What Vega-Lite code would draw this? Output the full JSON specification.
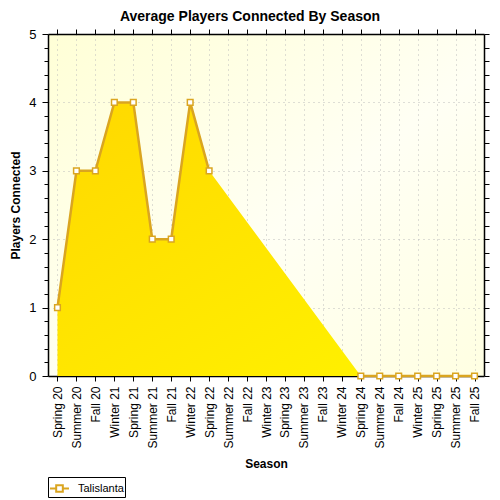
{
  "$schema": "https://vega.github.io/schema/vega-lite/v6.json",
  "autosize": {"type": "none"},
  "padding": {"left": 48, "top": 34, "right": 16, "bottom": 124},
  "width": 436,
  "height": 342,
  "background": "white",
  "title": {
    "text": "Average Players Connected By Season",
    "font": "Liberation Sans",
    "fontSize": 14,
    "fontWeight": "bold",
    "color": "black",
    "anchor": "middle",
    "dx": -16,
    "offset": 4
  },
  "data": {
    "values": [
      {"season": "Spring 20", "players": 1, "series": "Talislanta"},
      {"season": "Summer 20", "players": 3, "series": "Talislanta"},
      {"season": "Fall 20", "players": 3, "series": "Talislanta"},
      {"season": "Winter 21", "players": 4, "series": "Talislanta"},
      {"season": "Spring 21", "players": 4, "series": "Talislanta"},
      {"season": "Summer 21", "players": 2, "series": "Talislanta"},
      {"season": "Fall 21", "players": 2, "series": "Talislanta"},
      {"season": "Winter 22", "players": 4, "series": "Talislanta"},
      {"season": "Spring 22", "players": 3, "series": "Talislanta"},
      {"season": "Summer 22", "players": null, "series": "Talislanta"},
      {"season": "Fall 22", "players": null, "series": "Talislanta"},
      {"season": "Winter 23", "players": null, "series": "Talislanta"},
      {"season": "Spring 23", "players": null, "series": "Talislanta"},
      {"season": "Summer 23", "players": null, "series": "Talislanta"},
      {"season": "Fall 23", "players": null, "series": "Talislanta"},
      {"season": "Winter 24", "players": null, "series": "Talislanta"},
      {"season": "Spring 24", "players": 0, "series": "Talislanta"},
      {"season": "Summer 24", "players": 0, "series": "Talislanta"},
      {"season": "Fall 24", "players": 0, "series": "Talislanta"},
      {"season": "Winter 25", "players": 0, "series": "Talislanta"},
      {"season": "Spring 25", "players": 0, "series": "Talislanta"},
      {"season": "Summer 25", "players": 0, "series": "Talislanta"},
      {"season": "Fall 25", "players": 0, "series": "Talislanta"}
    ]
  },
  "encoding": {
    "x": {
      "field": "season",
      "type": "ordinal",
      "sort": null,
      "scale": {
        "type": "point",
        "padding": 0.5,
        "domain": ["Spring 20", "Summer 20", "Fall 20", "Winter 21", "Spring 21", "Summer 21", "Fall 21", "Winter 22", "Spring 22", "Summer 22", "Fall 22", "Winter 23", "Spring 23", "Summer 23", "Fall 23", "Winter 24", "Spring 24", "Summer 24", "Fall 24", "Winter 25", "Spring 25", "Summer 25", "Fall 25"]
      }
    },
    "y": {
      "field": "players",
      "type": "quantitative",
      "scale": {"domain": [0, 5], "nice": false}
    }
  },
  "layer": [
    {
      "transform": [{"filter": "isValid(datum.players)"}],
      "mark": {
        "type": "area",
        "color": {
          "gradient": "linear",
          "x1": 0, "y1": 0, "x2": 1, "y2": 1,
          "stops": [
            {"offset": 0, "color": "#FFD800"},
            {"offset": 1, "color": "#FFF400"}
          ]
        },
        "opacity": 1
      },
      "encoding": {
        "x": {
          "field": "season",
          "type": "ordinal",
          "sort": null,
          "axis": {
            "orient": "bottom",
            "title": "Season",
            "labelAngle": 270,
            "labelFontSize": 12,
            "labelPadding": 5,
            "tickSize": 5,
            "grid": true,
            "titlePadding": 10
          }
        },
        "y": {
          "field": "players",
          "type": "quantitative",
          "axis": {
            "orient": "left",
            "title": "Players Connected",
            "values": [0, 0.2, 0.4, 0.6, 0.8, 1, 1.2, 1.4, 1.6, 1.8, 2, 2.2, 2.4, 2.6, 2.8, 3, 3.2, 3.4, 3.6, 3.8, 4, 4.2, 4.4, 4.6, 4.8, 5],
            "labelExpr": "datum.value % 1 === 0 ? datum.value : ''",
            "labelFontSize": 13,
            "labelPadding": 6,
            "tickSize": {"condition": {"test": "datum.value % 1 === 0", "value": 6}, "value": 4},
            "grid": true,
            "gridOpacity": {"condition": {"test": "datum.value % 1 === 0 && datum.value > 0", "value": 1}, "value": 0},
            "titlePadding": 6
          }
        }
      }
    },
    {
      "mark": {"type": "line", "strokeWidth": 2.5},
      "encoding": {
        "color": {
          "field": "series",
          "type": "nominal",
          "scale": {"range": ["#DAA520"]},
          "legend": {
            "orient": "none",
            "legendX": 0,
            "legendY": 443,
            "title": null,
            "symbolType": "M-1,0H-0.35M0.35,0H1M-0.35,-0.35H0.35V0.35H-0.35Z",
            "symbolSize": 360,
            "symbolStrokeWidth": 2,
            "symbolFillColor": "white",
            "labelFontSize": 11,
            "labelFont": "Liberation Sans",
            "labelColor": "black",
            "strokeColor": "black",
            "padding": 1,
            "rowPadding": 0,
            "labelOffset": 8
          }
        },
        "x": {
          "field": "season",
          "type": "ordinal",
          "sort": null,
          "axis": {
            "orient": "top",
            "labels": false,
            "title": null,
            "tickSize": 5,
            "grid": false
          }
        },
        "y": {
          "field": "players",
          "type": "quantitative",
          "axis": {
            "orient": "right",
            "labels": false,
            "title": null,
            "values": [0, 0.2, 0.4, 0.6, 0.8, 1, 1.2, 1.4, 1.6, 1.8, 2, 2.2, 2.4, 2.6, 2.8, 3, 3.2, 3.4, 3.6, 3.8, 4, 4.2, 4.4, 4.6, 4.8, 5],
            "tickSize": 5,
            "grid": false
          }
        }
      }
    },
    {
      "transform": [{"filter": "isValid(datum.players)"}],
      "mark": {
        "type": "point",
        "shape": "square",
        "size": 32,
        "filled": true,
        "fill": "white",
        "stroke": "#DAA520",
        "strokeWidth": 1.5,
        "opacity": 1
      },
      "encoding": {
        "x": {"field": "season", "type": "ordinal", "sort": null, "axis": null},
        "y": {"field": "players", "type": "quantitative", "axis": null}
      }
    }
  ],
  "config": {
    "view": {
      "stroke": null,
      "fill": {
        "gradient": "linear",
        "x1": 0, "y1": 0, "x2": 1, "y2": 1,
        "stops": [
          {"offset": 0, "color": "#FFFFD6"},
          {"offset": 0.55, "color": "#FFFFF4"},
          {"offset": 1, "color": "#FFFFE2"}
        ]
      }
    },
    "axis": {
      "domainColor": "black",
      "domainWidth": 1.5,
      "tickColor": "black",
      "tickWidth": 1,
      "labelFont": "Liberation Sans",
      "labelColor": "black",
      "titleFont": "Liberation Sans",
      "titleFontSize": 12,
      "titleFontWeight": "bold",
      "titleColor": "black",
      "gridColor": "#BDBDBD",
      "gridDash": [1, 4],
      "gridWidth": 1
    }
  }
}
